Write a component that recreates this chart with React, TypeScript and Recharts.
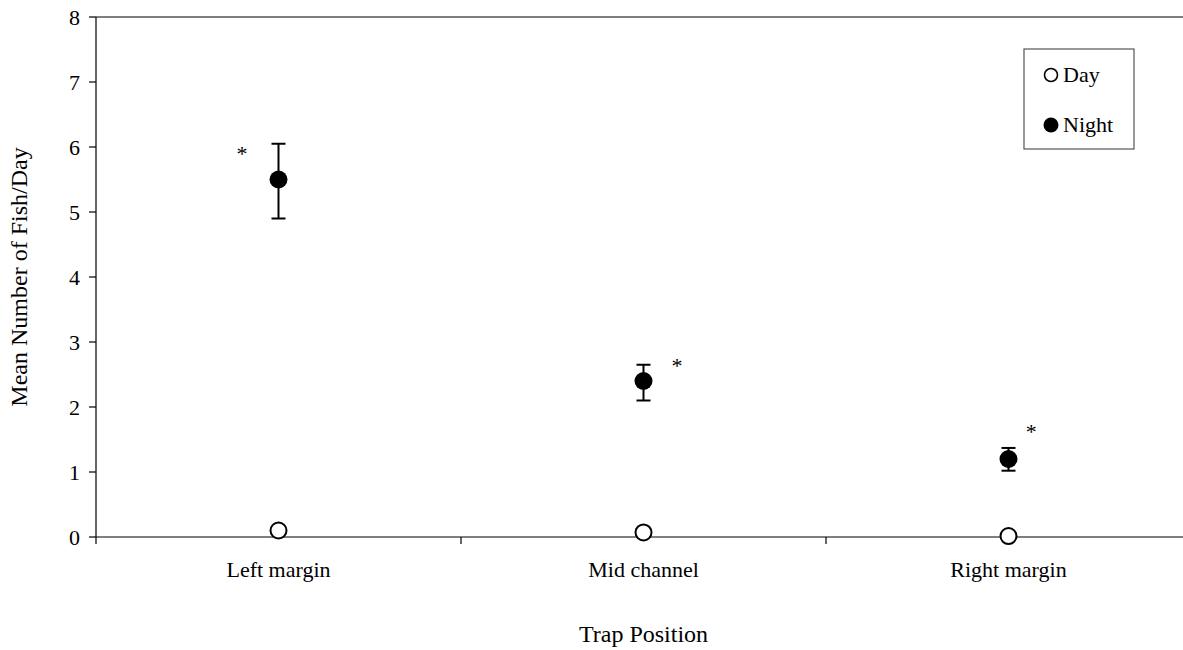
import React from "react";
import {
  ComposedChart,
  Scatter,
  XAxis,
  YAxis,
  ErrorBar,
  ReferenceLine,
} from "recharts";

const positions = ["Left margin", "Mid channel", "Right margin"];
const dayMeans = [0.1, 0.07, 0.015];
const nightMeans = [5.5, 2.4, 1.2];
// [below, above] the mean
const nightErrors: [number, number][] = [
  [0.6, 0.55],
  [0.3, 0.25],
  [0.18, 0.17],
];
// significance markers, x offset from category centre in category units
const starOffsets = [-0.1, 0.092, 0.062];
const starHeights = [5.95, 2.69, 1.68];
const yTicks = [0, 1, 2, 3, 4, 5, 6, 7, 8];
const seriesNames = ["Day", "Night"];

const FONT = '"Liberation Serif", "Times New Roman", serif';

const dayData = positions.map((p, i) => ({ x: i + 0.5, y: dayMeans[i], name: p }));
const nightData = positions.map((p, i) => ({
  x: i + 0.5,
  y: nightMeans[i],
  err: nightErrors[i],
  name: p,
}));
const starData = positions.map((p, i) => ({ x: i + 0.5 + starOffsets[i], y: starHeights[i] }));

// boundary ticks on integers, category names on the half steps
const xTicks = [0, 0.5, 1, 1.5, 2, 2.5, 3];

function CategoryTick(props: any) {
  const { x, y, payload } = props;
  const v = payload.value as number;
  if (Number.isInteger(v)) {
    return <line x1={x} x2={x} y1={y - 7} y2={y} stroke="#000" strokeWidth={1.2} />;
  }
  return (
    <text x={x} y={y + 33} textAnchor="middle" fontFamily={FONT} fontSize={22} fill="#000">
      {positions[Math.floor(v)]}
    </text>
  );
}

const OpenDot = (props: any) => (
  <circle cx={props.cx} cy={props.cy} r={8} fill="#fff" stroke="#000" strokeWidth={2} />
);
const FilledDot = (props: any) => <circle cx={props.cx} cy={props.cy} r={9} fill="#000" />;
const Star = (props: any) => (
  <text x={props.cx} y={props.cy + 11} textAnchor="middle" fontFamily={FONT} fontSize={22} fill="#000">
    *
  </text>
);

function LegendBox() {
  return (
    <svg
      width={112}
      height={102}
      style={{ position: "absolute", left: 1023, top: 48 }}
    >
      <rect x={1} y={1} width={110} height={100} fill="#fff" stroke="#555" strokeWidth={1.2} />
      <circle cx={28} cy={27} r={6.5} fill="#fff" stroke="#000" strokeWidth={1.6} />
      <circle cx={28} cy={77} r={7.5} fill="#000" />
      <text x={40} y={34} fontFamily={FONT} fontSize={22} fill="#000">{seriesNames[0]}</text>
      <text x={40} y={84} fontFamily={FONT} fontSize={22} fill="#000">{seriesNames[1]}</text>
    </svg>
  );
}

export default function App() {
  return (
    <div
      style={{
        position: "fixed",
        left: 0,
        top: 0,
        width: 1183,
        height: 650,
        overflow: "hidden",
        background: "#fff",
      }}
    >
      <ComposedChart
        width={1200}
        height={650}
        margin={{ top: 17, right: 9, left: 0, bottom: 0 }}
      >
        <XAxis
          type="number"
          dataKey="x"
          domain={[0, 3]}
          ticks={xTicks}
          interval={0}
          allowDecimals
          tick={<CategoryTick />}
          tickLine={false}
          tickSize={7}
          tickMargin={0}
          axisLine={{ stroke: "#000", strokeWidth: 1.2 }}
          height={113}
          label={{
            value: "Trap Position",
            position: "insideBottom",
            offset: 8,
            style: { fontFamily: FONT, fontSize: 24, fill: "#000" },
          }}
        />
        <YAxis
          type="number"
          dataKey="y"
          domain={[0, 8]}
          ticks={yTicks}
          interval={0}
          width={96}
          tickSize={7}
          tickMargin={9}
          tickLine={{ stroke: "#000", strokeWidth: 1.2 }}
          axisLine={{ stroke: "#000", strokeWidth: 1.2 }}
          tick={{ fontFamily: FONT, fontSize: 22, fill: "#000" }}
          label={{
            value: "Mean Number of Fish/Day",
            angle: -90,
            position: "insideLeft",
            offset: 18,
            style: { fontFamily: FONT, fontSize: 24, fill: "#000", textAnchor: "middle" },
          }}
        />
        <ReferenceLine y={8} stroke="#000" strokeWidth={1.2} />
        <Scatter
          name="Night"
          data={nightData}
          shape={<FilledDot />}
          isAnimationActive={false}
        >
          <ErrorBar
            dataKey="err"
            direction="y"
            width={7}
            stroke="#000"
            strokeWidth={2}
            isAnimationActive={false}
          />
        </Scatter>
        <Scatter name="Day" data={dayData} shape={<OpenDot />} isAnimationActive={false} />
        <Scatter name="stars" data={starData} shape={<Star />} isAnimationActive={false} />
      </ComposedChart>
      <LegendBox />
    </div>
  );
}
